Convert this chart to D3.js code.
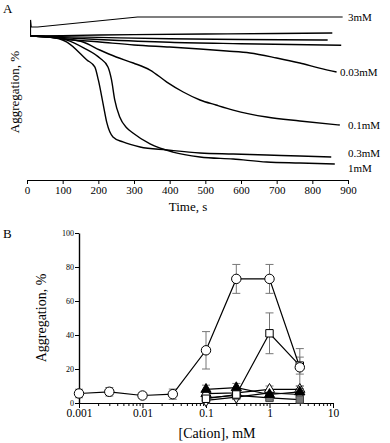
<!DOCTYPE html>
<html>
<head>
<meta charset="utf-8">
<script src="https://cdn.jsdelivr.net/npm/d3@7"></script>
<style>
  body { margin: 0; background: #fff; }
  svg { display: block; font-family: "Liberation Serif", "Times New Roman", serif; }
  .axis path, .axis line { stroke: #000; }
</style>
</head>
<body>
<div id="chart"></div>
<script>
// ---- panel A: aggregation traces (time in s, drop in %) ----
const traceNames = ["3mM", "t1", "t2", "t3", "0.03mM", "0.1mM", "0.3mM", "1mM"];
const traceLabels = ["3mM", "", "", "", "0.03mM", "0.1mM", "0.3mM", "1mM"];
const traceTimes = [
  [10, 10, 12, 30, 310, 885],
  [10, 100, 300, 500, 700, 856],
  [10, 200, 400, 600, 843],
  [10, 200, 400, 600, 881],
  [10, 60, 100, 204, 300, 400, 485, 560, 625, 700, 765, 820, 868],
  [10, 60, 110, 157, 204, 250, 298, 345, 392, 438, 485, 530, 578, 672, 765, 877],
  [10, 64, 112, 168, 190, 200, 214, 224, 241, 269, 317, 392, 485, 578, 672, 765, 853],
  [10, 64, 112, 160, 204, 227, 237, 246, 260, 280, 297, 345, 409, 485, 578, 672, 765, 863]
];
const traceValues = [
  [0, -11.5, -6.4, -6.4, -13.6, -13.6],
  [0, -0.3, -1, -1.4, -1.8, -2.1],
  [0, 1, 2, 2.5, 2.9],
  [0, 2.5, 4.5, 5.5, 6.6],
  [0, 0.7, 2.1, 4.3, 6.4, 7.9, 9.3, 10.7, 12.1, 15.7, 19.3, 22.9, 25.7],
  [0, 0.7, 2.1, 4.3, 10, 15, 19.3, 24.3, 32.9, 40, 45.7, 49.3, 52.9, 57.9, 60.7, 63.6],
  [0, 0.7, 4.3, 17.1, 22.1, 31.4, 49.3, 62.1, 72.1, 75.7, 79.3, 81.4, 83.6, 84.3, 85, 85.7, 86.4],
  [0, 0.7, 2.9, 8.6, 15.7, 22.1, 31.4, 45.7, 57.9, 65.7, 69.3, 77.1, 82.9, 86.4, 87.9, 90, 90.7, 91.4]
];
const timeTicks = [0, 100, 200, 300, 400, 500, 600, 700, 800, 900];

// ---- panel B: aggregation vs cation concentration ----
const cationMain = [0.001, 0.003, 0.01, 0.03, 0.1, 0.3, 1, 3];
const aggMain = [5.6, 6.6, 4.4, 5.2, 31, 73, 73, 21];
const errMain = [2.5, 2.5, 1.8, 3, 11, 8.5, 8.5, 11];
const cationOther = [0.1, 0.3, 1, 3];
const aggSquare = [2.5, 5, 41, 22];
const errSquare = [1.5, 2, 12, 5];
const aggBlackTri = [8, 9, 5, 6.5];
const errBlackTri = [2.5, 2.5, 2, 2];
const aggOpenTri = [5.5, 6, 8, 8];
const errOpenTri = [2, 2, 2, 2];
const aggGraySq = [3, 4.5, 3, 2];
const errGraySq = [1.5, 2, 1.5, 1.5];
const aggDiamond = [1.5, 3.5, 6, 5];
const errDiamond = [1.5, 1.5, 1.5, 1.5];
const cationTicks = [0.001, 0.01, 0.1, 1, 10];
const aggTicks = [0, 20, 40, 60, 80, 100];

const W = 390, H = 443;
const serif = "'Liberation Serif', 'Times New Roman', serif";
const svg = d3.select("#chart").append("svg").attr("width", W).attr("height", H);

// ================= panel A =================
const xA = d3.scaleLinear().domain([0, 900]).range([27, 348]);
const yA = d3.scaleLinear().domain([0, 100]).range([36, 176]);

svg.append("text").attr("x", 3).attr("y", 13).attr("font-size", 13).text("A");

svg.append("g")
  .attr("class", "axis")
  .attr("transform", "translate(0,180)")
  .call(d3.axisBottom(xA).tickValues(timeTicks).tickSize(4).tickSizeOuter(0).tickFormat(d3.format("d")))
  .call(g => g.attr("font-family", serif))
  .call(g => g.selectAll("text").attr("font-size", 11).attr("y", 6));

svg.append("text").attr("x", 188).attr("y", 211).attr("text-anchor", "middle")
  .attr("font-size", 13).text("Time, s");
svg.append("text").attr("transform", "translate(19,92) rotate(-90)")
  .attr("text-anchor", "middle").attr("font-size", 13).text("Aggregation, %");

const lineA = d3.line().x(d => xA(d[0])).y(d => yA(d[1]));
traceNames.forEach((name, i) => {
  const pts = traceTimes[i].map((t, j) => [t, traceValues[i][j]]);
  svg.append("path")
    .datum(pts)
    .attr("fill", "none")
    .attr("stroke", "#000")
    .attr("stroke-width", i === 0 ? 1.1 : 1.4)
    .attr("d", lineA.curve(i === 0 ? d3.curveLinear : d3.curveMonotoneX));
  if (traceLabels[i]) {
    const last = pts[pts.length - 1];
    svg.append("text")
      .attr("x", name === "0.03mM" ? 340 : 348)
      .attr("y", yA(last[1]) + (name === "0.3mM" ? -4 : name === "1mM" ? 4 : 0))
      .attr("dy", "0.35em")
      .attr("font-size", 11)
      .text(traceLabels[i]);
  }
});

// ================= panel B =================
const xB = d3.scaleLog().domain([0.001, 10]).range([79, 333]);
const yB = d3.scaleLinear().domain([0, 100]).range([403, 233]);

svg.append("text").attr("x", 3).attr("y", 238).attr("font-size", 13).text("B");

const minorTicks = [];
[0.001, 0.01, 0.1, 1].forEach(d => { for (let k = 2; k <= 9; k++) minorTicks.push(d * k); });

svg.append("g")
  .attr("class", "axis")
  .attr("transform", "translate(0,403)")
  .call(d3.axisBottom(xB).tickValues(minorTicks).tickSize(3).tickSizeOuter(0).tickFormat(""));
svg.append("g")
  .attr("class", "axis")
  .attr("transform", "translate(0,403)")
  .call(d3.axisBottom(xB).tickValues(cationTicks).tickSize(5).tickSizeOuter(0).tickFormat(d => String(d)))
  .call(g => g.attr("font-family", serif))
  .call(g => g.selectAll("text").attr("font-size", 11.5).attr("y", 6));

svg.append("g")
  .attr("class", "axis")
  .attr("transform", "translate(79,0)")
  .call(d3.axisLeft(yB).tickValues(aggTicks).tickSize(4).tickSizeOuter(0))
  .call(g => g.attr("font-family", serif))
  .call(g => g.select(".domain").attr("stroke-width", 1.4))
  .call(g => g.selectAll("text").attr("font-size", 8).attr("x", -5));

svg.append("text").attr("x", 217).attr("y", 438).attr("text-anchor", "middle")
  .attr("font-size", 14).text("[Cation], mM");
svg.append("text").attr("transform", "translate(46,318) rotate(-90)")
  .attr("text-anchor", "middle").attr("font-size", 14).text("Aggregation, %");

const seriesB = [
  { xs: cationOther, ys: aggDiamond, es: errDiamond, shape: "diamond", fill: "#fff" },
  { xs: cationOther, ys: aggGraySq, es: errGraySq, shape: "square", fill: "#777" },
  { xs: cationOther, ys: aggOpenTri, es: errOpenTri, shape: "triangle", fill: "#fff" },
  { xs: cationOther, ys: aggBlackTri, es: errBlackTri, shape: "triangle", fill: "#000" },
  { xs: cationOther, ys: aggSquare, es: errSquare, shape: "square", fill: "#fff" },
  { xs: cationMain, ys: aggMain, es: errMain, shape: "circle", fill: "#fff" }
];

const symbolType = { circle: d3.symbolCircle, square: d3.symbolSquare, triangle: d3.symbolTriangle, diamond: d3.symbolDiamond };
const symbolSize = { circle: 70, square: 55, triangle: 45, diamond: 45 };

// error bars
seriesB.forEach(s => {
  const g = svg.append("g").attr("stroke", "#777").attr("stroke-width", 1);
  s.xs.forEach((c, j) => {
    const x = xB(c), y0 = yB(s.ys[j] - s.es[j]), y1 = yB(s.ys[j] + s.es[j]);
    g.append("line").attr("x1", x).attr("x2", x).attr("y1", y0).attr("y2", y1);
    g.append("line").attr("x1", x - 4).attr("x2", x + 4).attr("y1", y0).attr("y2", y0);
    g.append("line").attr("x1", x - 4).attr("x2", x + 4).attr("y1", y1).attr("y2", y1);
  });
});

// lines
const lineB = d3.line().x(d => xB(d[0])).y(d => yB(d[1]));
seriesB.forEach(s => {
  svg.append("path")
    .datum(s.xs.map((c, j) => [c, s.ys[j]]))
    .attr("fill", "none").attr("stroke", "#000").attr("stroke-width", 1.2)
    .attr("d", lineB);
});

// markers
seriesB.forEach(s => {
  svg.append("g").selectAll("path")
    .data(s.xs.map((c, j) => [c, s.ys[j]]))
    .join("path")
    .attr("transform", d => `translate(${xB(d[0])},${yB(d[1])})`)
    .attr("d", d3.symbol().type(symbolType[s.shape]).size(symbolSize[s.shape]))
    .attr("fill", s.fill)
    .attr("stroke", s.fill === "#777" ? "#444" : "#000")
    .attr("stroke-width", 1);
});
</script>
</body>
</html>
